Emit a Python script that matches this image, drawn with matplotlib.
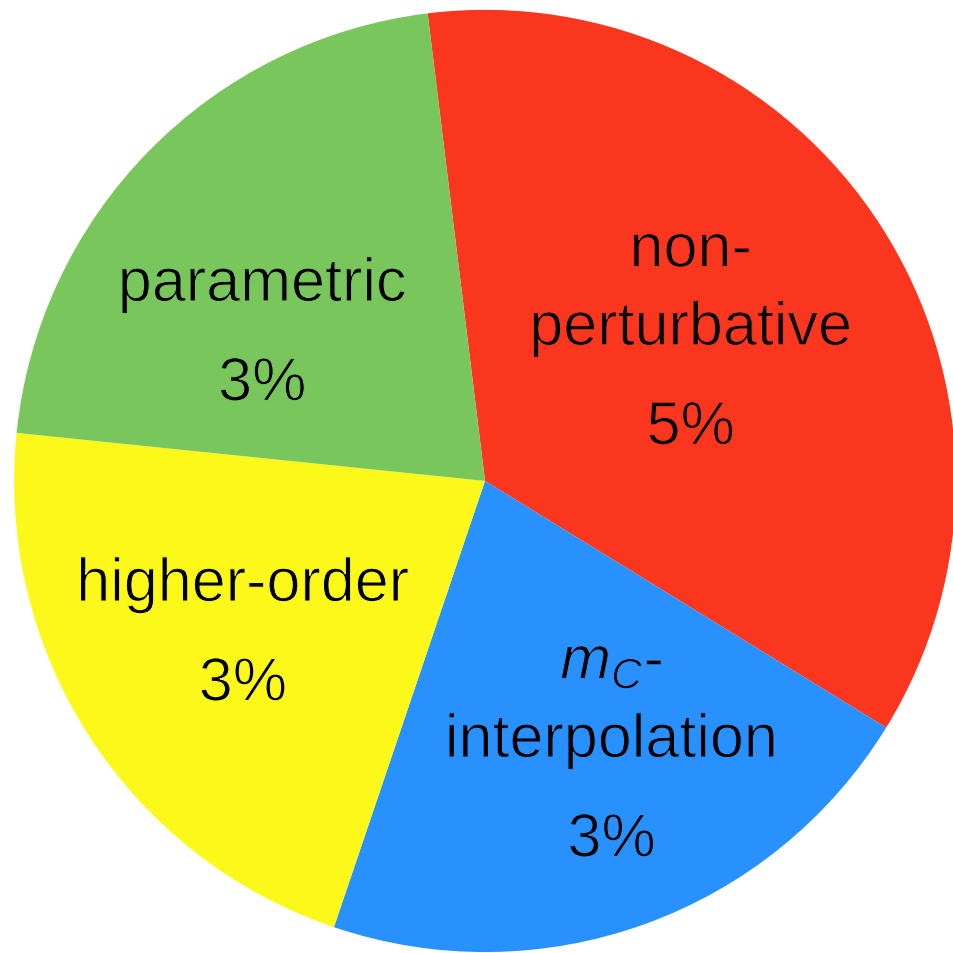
import matplotlib
matplotlib.use("Agg")
import matplotlib.pyplot as plt
import matplotlib.patheffects as pe

# data
names = ["non-\nperturbative", "$m_C$-\ninterpolation", "higher-order", "parametric"]
values = [5, 3, 3, 3]
colors = ["#FB361E", "#2891FE", "#FCF91A", "#79C75C"]

# baseline of the last name line for each label (data coords)
label_pos = [(0.437, 0.289), (0.269, -0.586), (-0.514, -0.255), (-0.473, 0.382)]
name_step = 0.166
pct_gap = 0.211

plt.rcParams["font.family"] = ["Liberation Sans", "DejaVu Sans"]
plt.rcParams["mathtext.fontset"] = "custom"
plt.rcParams["mathtext.it"] = "Liberation Sans:italic"
plt.rcParams["mathtext.rm"] = "Liberation Sans"

fig = plt.figure(figsize=(9.54, 9.54), dpi=100)
ax = fig.add_axes([0, 0, 1, 1])

ax.pie(values, colors=colors, startangle=97, counterclock=False,
       radius=1, wedgeprops=dict(linewidth=0))

for name, v, c, (x, y) in zip(names, values, colors, label_pos):
    # thin the glyphs a bit with an outline in the wedge colour
    thin = [pe.Stroke(linewidth=0.8, foreground=c)]
    lines = name.split("\n")
    for i, line in enumerate(lines):
        yy = y + name_step * (len(lines) - 1 - i)
        ax.text(x, yy, line, ha="center", va="baseline", fontsize=44,
                color="black", path_effects=thin)
    ax.text(x, y - pct_gap, f"{v}%", ha="center", va="baseline",
            fontsize=44, color="black", path_effects=thin)

ax.set_xlim(-1.030, 0.996)
ax.set_ylim(-1.002, 1.023)
ax.set_aspect("auto")
ax.axis("off")

fig.savefig("out.png", dpi=100, facecolor="white")
